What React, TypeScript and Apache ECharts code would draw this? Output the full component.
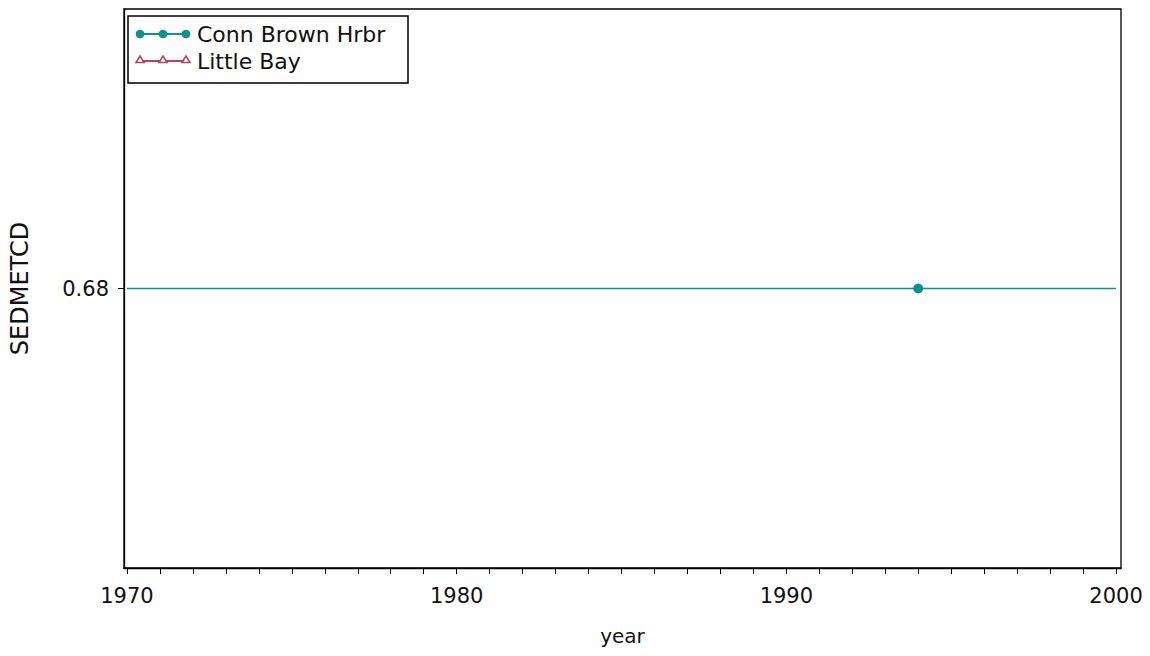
import React, { useEffect, useRef } from "react";
import * as echarts from "echarts";

// ---- data ----
const seriesNames = ["Conn Brown Hrbr", "Little Bay"];
const connBrownYears = [1994];
const connBrownValues = [0.68];
const connBrownFitYears = [1970, 2000];
const connBrownFitValues = [0.68, 0.68];
const littleBayYears: number[] = [];
const littleBayValues: number[] = [];
const xLabelTicks = [1970, 1980, 1990, 2000];
const xMinorTicks: number[] = [];
for (let y = 1970; y <= 2000; y++) xMinorTicks.push(y);
const yLabelTicks = [0.68];

const TEAL = "#12908a";
const RED = "#b2475a";
const FONT = "DejaVu Sans";

export default function App() {
  const ref = useRef<HTMLDivElement>(null);
  useEffect(() => {
    if (!ref.current) return;
    const chart = echarts.init(ref.current, undefined, { renderer: "svg" });
    const legendX = 128;
    const legendY = 16;
    const entries = [
      { name: seriesNames[0], color: TEAL, kind: "circle", y: 34 },
      { name: seriesNames[1], color: RED, kind: "triangle", y: 61 },
    ];
    const graphics: any[] = [
      {
        type: "rect",
        shape: { x: legendX, y: legendY, width: 280, height: 67 },
        style: { fill: "#fff", stroke: "#000", lineWidth: 1.5 },
        z: 10,
      },
    ];
    entries.forEach((e) => {
      graphics.push({
        type: "line",
        shape: { x1: 137, y1: e.y, x2: 189, y2: e.y },
        style: { stroke: e.color, lineWidth: 2 },
        z: 11,
      });
      [140, 163, 186].forEach((cx) => {
        if (e.kind === "circle") {
          graphics.push({
            type: "circle",
            shape: { cx, cy: e.y, r: 4.3 },
            style: { fill: e.color },
            z: 12,
          });
        } else {
          graphics.push({
            type: "polygon",
            shape: { points: [[cx - 4, e.y + 1.5], [cx + 4, e.y + 1.5], [cx, e.y - 5]] },
            style: { fill: "#fff", stroke: e.color, lineWidth: 1.6 },
            z: 12,
          });
        }
      });
      graphics.push({
        type: "text",
        x: 197,
        y: e.y,
        style: {
          text: e.name,
          font: `22px '${FONT}'`,
          fill: "#111",
          verticalAlign: "middle",
          align: "left",
        },
        z: 12,
      });
    });

    chart.setOption({
      animation: false,
      backgroundColor: "#fff",
      grid: {
        left: 123,
        right: 29,
        top: 9,
        bottom: 88,
        show: true,
        borderColor: "#000",
        borderWidth: 1.3,
        backgroundColor: "transparent",
      },
      xAxis: {
        type: "value",
        min: 1969.91,
        max: 2000.15,
        name: "year",
        nameLocation: "middle",
        nameGap: 58,
        nameTextStyle: { fontFamily: FONT, fontSize: 20, color: "#111" },
        axisLine: { show: true, lineStyle: { color: "#000", width: 1.3 } },
        axisTick: {
          show: true,
          length: 6,
          customValues: xMinorTicks,
          lineStyle: { color: "#000", width: 1 },
        },
        axisLabel: {
          customValues: xLabelTicks,
          fontFamily: FONT,
          fontSize: 21,
          color: "#111",
          margin: 17,
          formatter: (v: number) => String(Math.round(v)),
        },
        splitLine: { show: false },
      },
      yAxis: {
        type: "value",
        min: 0.67,
        max: 0.69,
        name: "SEDMETCD",
        nameLocation: "middle",
        nameGap: 92,
        nameTextStyle: { fontFamily: FONT, fontSize: 24, color: "#111" },
        axisLine: { show: true, lineStyle: { color: "#000", width: 1.3 } },
        axisTick: {
          show: true,
          length: 6,
          customValues: yLabelTicks,
          lineStyle: { color: "#000", width: 1 },
        },
        axisLabel: {
          customValues: yLabelTicks,
          fontFamily: FONT,
          fontSize: 21,
          color: "#111",
          margin: 15,
          formatter: (v: number) => v.toFixed(2),
        },
        splitLine: { show: false },
      },
      series: [
        {
          name: seriesNames[0] + " fit",
          type: "line",
          data: connBrownFitYears.map((x, i) => [x, connBrownFitValues[i]]),
          showSymbol: false,
          lineStyle: { color: TEAL, width: 1.5 },
          itemStyle: { color: TEAL },
          silent: true,
        },
        {
          name: seriesNames[0],
          type: "line",
          data: connBrownYears.map((x, i) => [x, connBrownValues[i]]),
          symbol: "circle",
          symbolSize: 10,
          showSymbol: true,
          lineStyle: { color: TEAL, width: 1.5 },
          itemStyle: { color: TEAL },
        },
        {
          name: seriesNames[1],
          type: "line",
          data: littleBayYears.map((x, i) => [x, littleBayValues[i]]),
          symbol: "triangle",
          lineStyle: { color: RED, width: 1.5 },
          itemStyle: { color: RED },
        },
      ],
      graphic: graphics,
    });
    return () => chart.dispose();
  }, []);
  return (
    <div
      ref={ref}
      style={{ position: "absolute", left: 0, top: 0, width: 1150, height: 656 }}
    />
  );
}
